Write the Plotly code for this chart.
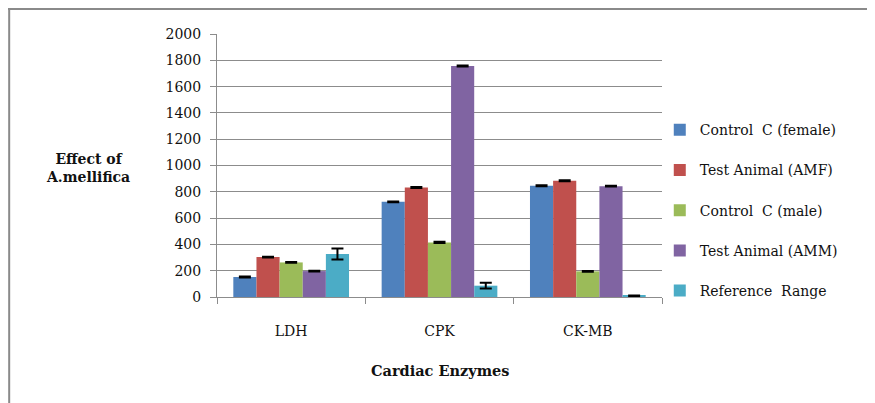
import plotly.graph_objects as go

categories = ["LDH", "CPK", "CK-MB"]
series_names = ["Control  C (female)", "Test Animal (AMF)", "Control  C (male)",
                "Test Animal (AMM)", "Reference  Range"]
control_female = [152, 724, 846]
test_amf = [304, 833, 884]
control_male = [263, 415, 195]
test_amm = [197, 1757, 843]
reference_range = [327, 86, 10]
err_control_female = [3, 3, 4]
err_test_amf = [3, 4, 3]
err_control_male = [3, 5, 3]
err_test_amm = [3, 4, 3]
err_reference_range = [42, 22, 2]
colors = ["#4F81BD", "#C0504D", "#9BBB59", "#8064A2", "#4BACC6"]
y_ticks = [0, 200, 400, 600, 800, 1000, 1200, 1400, 1600, 1800, 2000]

values = [control_female, test_amf, control_male, test_amm, reference_range]
errors = [err_control_female, err_test_amf, err_control_male, err_test_amm, err_reference_range]

FONT = "DejaVu Serif"

fig = go.Figure()
for i, (name, vals, errs) in enumerate(zip(series_names, values, errors)):
    fig.add_trace(go.Bar(
        x=categories, y=vals, name=name, marker_color=colors[i],
        marker_line_width=0, legendgroup=str(i),
        error_y=dict(type="data", array=errs, color="black", thickness=2, width=6),
    ))

fig.update_layout(
    width=875, height=403,
    margin=dict(l=209, r=221, t=26, b=114),
    paper_bgcolor="white", plot_bgcolor="white",
    barmode="group", bargap=0.22, bargroupgap=0,
    font=dict(family=FONT, size=14, color="#111111"),
    showlegend=True,
    legend=dict(x=0.995, xanchor="left", y=0.33, yanchor="middle",
                font=dict(family=FONT, size=14), tracegroupgap=19,
                itemwidth=30, bgcolor="rgba(0,0,0,0)"),
    xaxis=dict(type="category", tickson="boundaries", ticks="outside", ticklen=6,
               tickcolor="#8c8c8c", showline=True, linecolor="#8c8c8c", linewidth=1,
               showgrid=False, tickfont=dict(family=FONT, size=14),
               ticklabelstandoff=21),
    yaxis=dict(range=[0, 2000], tickvals=y_ticks, ticks="outside", ticklen=6,
               tickcolor="#8c8c8c", showline=True, linecolor="#8c8c8c", linewidth=1,
               showgrid=True, gridcolor="#8c8c8c", gridwidth=1, zeroline=False,
               tickfont=dict(family=FONT, size=14), ticklabelstandoff=6),
    annotations=[
        dict(text="<b>Effect of<br>A.mellifica</b>", xref="paper", yref="paper",
             x=-0.29, y=0.49, xanchor="center", yanchor="middle", showarrow=False,
             font=dict(family=FONT, size=14)),
        dict(text="<b>Cardiac Enzymes</b>", xref="paper", yref="paper",
             x=0.5, y=-0.278, xanchor="center", yanchor="middle", showarrow=False,
             font=dict(family=FONT, size=14.5)),
    ],
    shapes=[
        dict(type="line", xref="paper", yref="paper", x0=-0.467, x1=-0.467,
             y0=1.095, y1=-0.5, line=dict(color="#8a8a8a", width=2)),
        dict(type="line", xref="paper", yref="paper", x0=-0.476, x1=1.6,
             y0=1.095, y1=1.095, line=dict(color="#8a8a8a", width=2)),
    ],
)

fig.write_html("out.html")
